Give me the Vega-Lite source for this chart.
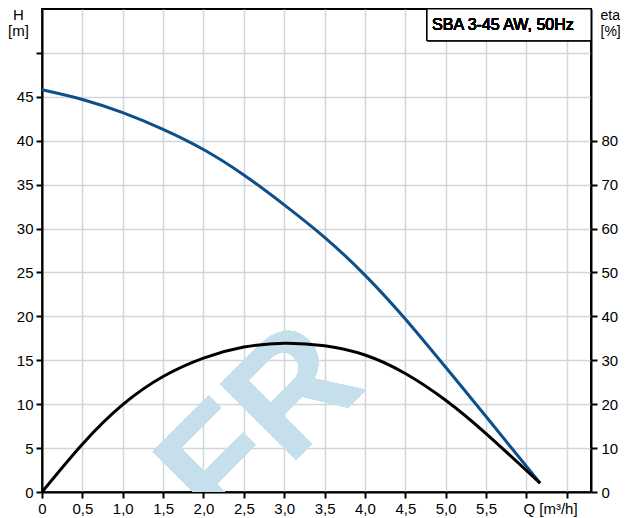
{
  "$schema": "https://vega.github.io/schema/vega-lite/v6.json",
  "width": 549,
  "height": 483,
  "autosize": "none",
  "padding": {"left": 42, "top": 9, "right": 43, "bottom": 26},
  "background": "white",
  "config": {
    "font": "Liberation Sans",
    "view": {"stroke": "black", "strokeWidth": 2},
    "axis": {
      "labelFont": "Liberation Sans",
      "labelFontSize": 15,
      "labelColor": "black",
      "titleFont": "Liberation Sans",
      "titleFontSize": 15,
      "titleFontWeight": "normal",
      "titleColor": "black",
      "domainColor": "black",
      "domainWidth": 2,
      "tickColor": "black",
      "tickWidth": 2,
      "tickSize": 6,
      "gridColor": "#d3d6d9",
      "gridWidth": 1.5,
      "gridOpacity": 1
    }
  },
  "data": {
    "values": [
      {"Q": 0.0, "H": 45.8, "eta": 0.0},
      {"Q": 0.5, "H": 44.7, "eta": 10.9},
      {"Q": 1.0, "H": 43.2, "eta": 19.9},
      {"Q": 1.5, "H": 41.3, "eta": 26.3},
      {"Q": 2.0, "H": 39.0, "eta": 30.5},
      {"Q": 2.5, "H": 36.1, "eta": 33.0},
      {"Q": 3.0, "H": 32.7, "eta": 33.9},
      {"Q": 3.5, "H": 29.0, "eta": 33.3},
      {"Q": 4.0, "H": 24.7, "eta": 31.2},
      {"Q": 4.5, "H": 19.7, "eta": 27.0},
      {"Q": 5.0, "H": 14.2, "eta": 20.9},
      {"Q": 5.5, "H": 8.6, "eta": 13.3},
      {"Q": 6.17, "H": 1.0, "eta": 2.0}
    ]
  },
  "resolve": {"scale": {"y": "independent"}},
  "layer": [
    {
      "layer": [
        {
          "mark": {"type": "text", "text": "FR", "font": "Liberation Sans", "fontWeight": "bold", "fontSize": 156, "angle": -45, "fill": "#c5e0ec", "align": "center", "baseline": "middle", "clip": true},
          "encoding": {
            "x": {"datum": 2.72, "type": "quantitative", "scale": {"domain": [0, 6.8], "nice": false, "zero": false}},
            "y": {"datum": 7.3, "type": "quantitative", "scale": {"domain": [0, 55], "nice": false}}
          }
        },
        {
          "mark": {"type": "line", "color": "#0d4f8b", "strokeWidth": 3, "interpolate": "natural"},
          "encoding": {
            "x": {
              "field": "Q", "type": "quantitative",
              "scale": {"domain": [0, 6.8], "nice": false, "zero": false},
              "axis": {
                "values": [0, 0.5, 1, 1.5, 2, 2.5, 3, 3.5, 4, 4.5, 5, 5.5, 6, 6.5],
                "labelExpr": "datum.value == 0 ? '0' : (datum.value >= 6 ? '' : replace(format(datum.value, '.1f'), '.', ','))",
                "labelPadding": 3,
                "labelFlush": false,
                "title": "Q [m³/h]",
                "titleX": 508,
                "titleY": 9,
                "titleAlign": "center",
                "titleBaseline": "top",
                "grid": true
              }
            },
            "y": {
              "field": "H", "type": "quantitative",
              "scale": {"domain": [0, 55], "nice": false},
              "axis": {
                "orient": "left",
                "values": [0, 5, 10, 15, 20, 25, 30, 35, 40, 45, 50],
                "labelExpr": "datum.value > 45 ? '' : datum.label",
                "labelPadding": 3,
                "labelFlush": false,
                "title": ["H", "[m]"],
                "titleAngle": 0,
                "titleAlign": "center",
                "titleBaseline": "top",
                "titleX": -24,
                "titleY": -2,
                "titleLineHeight": 16,
                "grid": true
              }
            }
          }
        },
        {
          "mark": {"type": "rect", "fill": "white", "stroke": "black", "strokeWidth": 1},
          "encoding": {
            "x": {"datum": 4.77, "type": "quantitative"},
            "x2": {"datum": 6.8},
            "y": {"datum": 51.4, "type": "quantitative"},
            "y2": {"datum": 55}
          }
        },
        {
          "mark": {"type": "text", "text": "SBA 3-45 AW, 50Hz", "font": "Liberation Sans", "fontWeight": "normal", "fontSize": 16, "align": "left", "baseline": "middle", "dx": 5, "fill": "black"},
          "encoding": {
            "x": {"datum": 4.77, "type": "quantitative"},
            "y": {"datum": 53.2, "type": "quantitative"}
          }
        }
      ]
    },
    {
      "mark": {"type": "line", "color": "black", "strokeWidth": 3, "interpolate": "natural"},
      "encoding": {
        "x": {"field": "Q", "type": "quantitative", "scale": {"domain": [0, 6.8], "nice": false, "zero": false}},
        "y": {
          "field": "eta", "type": "quantitative",
          "scale": {"domain": [0, 110], "nice": false},
          "axis": {
            "orient": "right",
            "values": [0, 10, 20, 30, 40, 50, 60, 70, 80],
            "labelPadding": 4,
            "labelFlush": false,
            "grid": false,
            "title": ["eta", "[%]"],
            "titleAngle": 0,
            "titleAlign": "left",
            "titleBaseline": "top",
            "titleX": 9,
            "titleY": -1,
            "titleFontSize": 14,
            "titleLineHeight": 16
          }
        }
      }
    }
  ]
}
